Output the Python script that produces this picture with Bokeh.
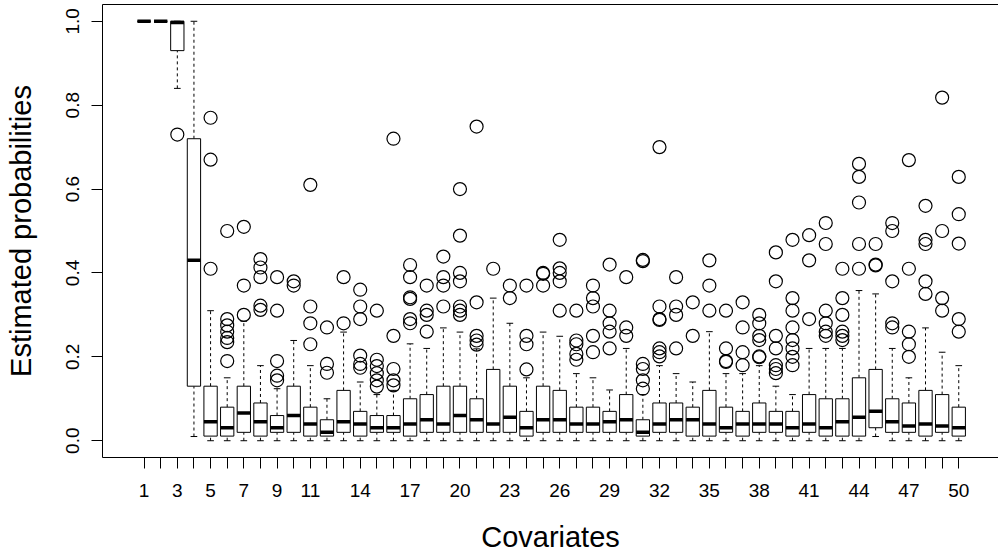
from bokeh.plotting import figure
from bokeh.models import FixedTicker, LinearAxis, ColumnDataSource
from bokeh.embed import file_html
from bokeh.resources import INLINE

covariates = list(range(1, 51))
whisker_low = [1.0, 1.0, 0.84, 0.01, 0.0, 0.0, 0.0, 0.0, 0.0, 0.0,
               0.0, 0.0, 0.0, 0.0, 0.0, 0.0, 0.0, 0.0, 0.0, 0.0,
               0.0, 0.0, 0.0, 0.0, 0.0, 0.0, 0.0, 0.0, 0.0, 0.0,
               0.0, 0.0, 0.0, 0.0, 0.0, 0.0, 0.0, 0.0, 0.0, 0.0,
               0.0, 0.0, 0.0, 0.0, 0.01, 0.0, 0.0, 0.0, 0.0, 0.0]
q1 = [1.0, 1.0, 0.93, 0.13, 0.011, 0.011, 0.02, 0.011, 0.02, 0.02,
      0.011, 0.011, 0.02, 0.011, 0.02, 0.02, 0.011, 0.02, 0.02, 0.02,
      0.02, 0.02, 0.02, 0.011, 0.02, 0.02, 0.02, 0.02, 0.02, 0.02,
      0.011, 0.02, 0.02, 0.011, 0.011, 0.02, 0.011, 0.02, 0.02, 0.011,
      0.02, 0.011, 0.011, 0.011, 0.031, 0.02, 0.02, 0.011, 0.02, 0.011]
median = [1.0, 1.0, 0.997, 0.43, 0.045, 0.031, 0.066, 0.045, 0.031, 0.06,
          0.04, 0.02, 0.045, 0.04, 0.031, 0.031, 0.04, 0.05, 0.04, 0.06,
          0.05, 0.04, 0.056, 0.031, 0.05, 0.05, 0.04, 0.04, 0.045, 0.05,
          0.02, 0.04, 0.05, 0.05, 0.04, 0.031, 0.04, 0.04, 0.04, 0.031,
          0.04, 0.031, 0.045, 0.056, 0.07, 0.045, 0.035, 0.04, 0.035, 0.031]
q3 = [1.0, 1.0, 1.0, 0.72, 0.13, 0.08, 0.13, 0.09, 0.06, 0.13,
      0.08, 0.05, 0.12, 0.07, 0.06, 0.06, 0.10, 0.11, 0.13, 0.13,
      0.10, 0.17, 0.13, 0.07, 0.13, 0.12, 0.08, 0.08, 0.07, 0.11,
      0.05, 0.09, 0.09, 0.08, 0.12, 0.08, 0.07, 0.09, 0.07, 0.07,
      0.11, 0.10, 0.10, 0.15, 0.17, 0.10, 0.09, 0.12, 0.11, 0.08]
whisker_high = [1.0, 1.0, 1.0, 1.0, 0.31, 0.15, 0.285, 0.179, 0.124, 0.239,
                0.179, 0.10, 0.259, 0.14, 0.11, 0.12, 0.231, 0.22, 0.269, 0.259,
                0.219, 0.34, 0.28, 0.15, 0.259, 0.249, 0.16, 0.15, 0.121, 0.22,
                0.11, 0.179, 0.16, 0.14, 0.26, 0.16, 0.16, 0.179, 0.13, 0.11,
                0.22, 0.22, 0.22, 0.358, 0.35, 0.22, 0.15, 0.269, 0.211, 0.179]
outliers = [
    [], [], [0.73], [],
    [0.77, 0.67, 0.41],
    [0.50, 0.29, 0.275, 0.26, 0.245, 0.235, 0.19],
    [0.51, 0.37, 0.30],
    [0.433, 0.413, 0.39, 0.322, 0.312],
    [0.39, 0.31, 0.19, 0.155, 0.144],
    [0.38, 0.37],
    [0.61, 0.32, 0.28, 0.23],
    [0.27, 0.183, 0.162],
    [0.39, 0.28],
    [0.36, 0.32, 0.29, 0.203, 0.183, 0.174],
    [0.31, 0.193, 0.178, 0.161, 0.144, 0.129],
    [0.72, 0.25, 0.171, 0.144, 0.132],
    [0.419, 0.39, 0.342, 0.338, 0.29, 0.28],
    [0.37, 0.31, 0.30, 0.26],
    [0.439, 0.39, 0.37, 0.32],
    [0.60, 0.489, 0.40, 0.38, 0.32, 0.31, 0.30],
    [0.749, 0.33, 0.25, 0.239, 0.229],
    [0.41],
    [0.37, 0.34],
    [0.37, 0.25, 0.23, 0.17],
    [0.40, 0.398, 0.37],
    [0.479, 0.411, 0.40, 0.38, 0.31],
    [0.31, 0.239, 0.23, 0.207, 0.193],
    [0.37, 0.34, 0.32, 0.25, 0.211],
    [0.42, 0.31, 0.28, 0.26, 0.22],
    [0.39, 0.27, 0.25],
    [0.431, 0.428, 0.183, 0.171, 0.144, 0.124],
    [0.70, 0.32, 0.29, 0.288, 0.22, 0.211, 0.201],
    [0.39, 0.32, 0.30, 0.22],
    [0.33, 0.25],
    [0.43, 0.37, 0.31],
    [0.31, 0.22, 0.19, 0.188],
    [0.33, 0.27, 0.211, 0.18],
    [0.30, 0.28, 0.25, 0.24, 0.201, 0.199],
    [0.449, 0.38, 0.25, 0.22, 0.18, 0.171, 0.161],
    [0.479, 0.34, 0.31, 0.27, 0.24, 0.22, 0.20, 0.18],
    [0.49, 0.43, 0.29],
    [0.519, 0.469, 0.31, 0.28, 0.26, 0.25],
    [0.41, 0.34, 0.30, 0.26, 0.25, 0.24],
    [0.66, 0.629, 0.568, 0.469, 0.41],
    [0.469, 0.42, 0.418],
    [0.519, 0.50, 0.38, 0.28, 0.27],
    [0.669, 0.41, 0.26, 0.23, 0.20],
    [0.56, 0.479, 0.469, 0.38, 0.35],
    [0.818, 0.50, 0.34, 0.31],
    [0.629, 0.54, 0.47, 0.29, 0.26],
]
x_tick_labels = [1, 3, 5, 7, 9, 11, 14, 17, 20, 23, 26, 29, 32, 35, 38, 41, 44, 47, 50]
y_ticks = [0.0, 0.2, 0.4, 0.6, 0.8, 1.0]

FONT = "Liberation Sans"
bw = 0.4   # half box width
sw = 0.2   # half staple width

p = figure(width=998, height=555, output_backend="svg", toolbar_location=None,
           x_range=(-1.5, 52.39), y_range=(-0.04, 1.04),
           min_border_left=102, min_border_right=0, min_border_top=4, min_border_bottom=98,
           background_fill_color="white", border_fill_color="white")
p.outline_line_color = None
p.xgrid.visible = False
p.ygrid.visible = False

src = ColumnDataSource(dict(
    x=covariates,
    left=[c - bw for c in covariates], right=[c + bw for c in covariates],
    sl=[c - sw for c in covariates], sr=[c + sw for c in covariates],
    wlo=whisker_low, q1=q1, med=median, q3=q3, whi=whisker_high,
))

# whiskers
p.segment(x0="x", y0="q3", x1="x", y1="whi", source=src, line_color="black",
          line_width=1, line_dash="3 3")
p.segment(x0="x", y0="wlo", x1="x", y1="q1", source=src, line_color="black",
          line_width=1, line_dash="3 3")
# staples
p.segment(x0="sl", y0="whi", x1="sr", y1="whi", source=src, line_color="black", line_width=1)
p.segment(x0="sl", y0="wlo", x1="sr", y1="wlo", source=src, line_color="black", line_width=1)
# boxes
p.quad(left="left", right="right", bottom="q1", top="q3", source=src,
       fill_color="white", line_color="black", line_width=1)
# medians
p.segment(x0="left", y0="med", x1="right", y1="med", source=src, line_color="black", line_width=3.5)

# outliers
ox, oy = [], []
for c, vals in zip(covariates, outliers):
    for v in vals:
        ox.append(c)
        oy.append(v)
p.scatter(ox, oy, marker="circle", size=13, fill_color=None, line_color="black", line_width=1.2)

# axes
xa = p.xaxis[0]
xa.ticker = FixedTicker(ticks=covariates)
xa.major_label_overrides = {c: (str(c) if c in x_tick_labels else "") for c in covariates}
xa.major_tick_in = 0
xa.major_tick_out = 11
xa.minor_tick_line_color = None
xa.major_label_standoff = 15
xa.major_label_text_font = FONT
xa.major_label_text_font_size = "19px"
xa.major_label_text_color = "black"
xa.axis_label = "Covariates"
xa.axis_label_text_font = FONT
xa.axis_label_text_font_style = "normal"
xa.axis_label_text_font_size = "29px"
xa.axis_label_text_color = "black"
xa.axis_label_standoff = 21
xa.axis_line_color = "black"

ya = p.yaxis[0]
ya.ticker = FixedTicker(ticks=y_ticks)
ya.major_label_overrides = {v: f"{v:.1f}" for v in y_ticks}
ya.major_label_orientation = "vertical"
ya.major_tick_in = 0
ya.major_tick_out = 11
ya.minor_tick_line_color = None
ya.major_label_standoff = 12
ya.major_label_text_font = FONT
ya.major_label_text_font_size = "19px"
ya.major_label_text_color = "black"
ya.axis_label = "Estimated probabilities"
ya.axis_label_text_font = FONT
ya.axis_label_text_font_style = "normal"
ya.axis_label_text_font_size = "29px"
ya.axis_label_text_color = "black"
ya.axis_label_standoff = 27
ya.axis_line_color = "black"

top = LinearAxis(ticker=FixedTicker(ticks=[]), major_label_text_font_size="0px",
                 major_tick_line_color=None, minor_tick_line_color=None,
                 axis_line_color="black")
p.add_layout(top, "above")

open("out.html", "w").write(file_html(p, INLINE))
